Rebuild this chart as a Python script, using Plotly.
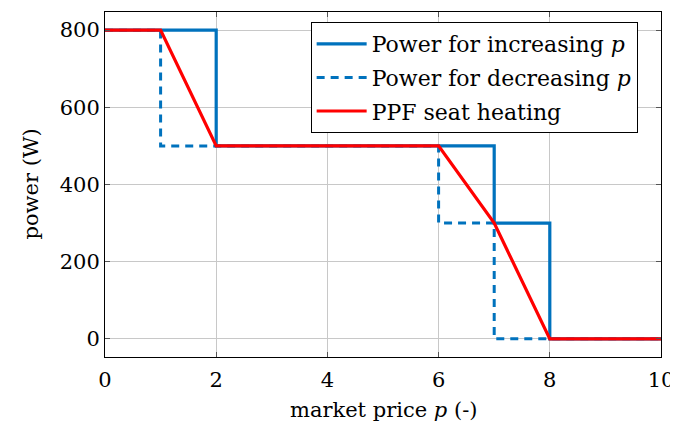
import plotly.graph_objects as go

# Data
inc_x = [0, 2, 2, 7, 7, 8, 8, 10]
inc_y = [800, 800, 500, 500, 300, 300, 0, 0]
dec_x = [0, 1, 1, 6, 6, 7, 7, 10]
dec_y = [800, 800, 500, 500, 300, 300, 0, 0]
ppf_x = [0, 1, 2, 6, 7, 8, 10]
ppf_y = [800, 800, 500, 500, 300, 0, 0]

x_ticks = [0, 2, 4, 6, 8, 10]
y_ticks = [0, 200, 400, 600, 800]

BLUE = "#0072BD"
RED = "#FF0000"
FONT = "DejaVu Serif"

fig = go.Figure()
fig.add_trace(go.Scatter(x=dec_x, y=dec_y, mode="lines", name="Power for decreasing <i>p</i>",
                         line=dict(color=BLUE, width=3, dash="8px,6px"), legendrank=2, legendgroup="b"))
fig.add_trace(go.Scatter(x=inc_x, y=inc_y, mode="lines", name="Power for increasing <i>p</i>",
                         line=dict(color=BLUE, width=3.2), legendrank=1, legendgroup="a"))
fig.add_trace(go.Scatter(x=ppf_x, y=ppf_y, mode="lines", name="PPF seat heating",
                         line=dict(color=RED, width=3.2), legendrank=3, legendgroup="c"))

axis_common = dict(
    showgrid=True, gridcolor="#c8c8c8", gridwidth=1,
    showline=True, linecolor="black", linewidth=1, mirror="ticks",
    ticks="inside", ticklen=5, tickcolor="#555555",
    zeroline=False, automargin=False,
    tickfont=dict(family=FONT, size=21, color="black"),
)

fig.update_layout(
    width=670, height=422,
    margin=dict(l=97, r=17, t=4, b=73),
    paper_bgcolor="white", plot_bgcolor="white",
    font=dict(family=FONT, color="black"),
    xaxis=dict(range=[0, 10], tickvals=x_ticks, ticklabelstandoff=4, **axis_common),
    yaxis=dict(range=[-47, 847], tickvals=y_ticks, **axis_common),
    legend=dict(
        x=0.958, y=0.971, xanchor="right", yanchor="top",
        bgcolor="white", bordercolor="black", borderwidth=1,
        font=dict(family=FONT, size=22, color="black"),
        tracegroupgap=2, itemwidth=50,
    ),
    showlegend=True,
    annotations=[
        dict(text="market price <i>p</i> (-)", xref="paper", yref="paper", x=0.5, y=0,
             yanchor="middle", xanchor="center", showarrow=False, yshift=-53,
             font=dict(family=FONT, size=21, color="black")),
        dict(text="power (W)", xref="paper", yref="paper", x=0, y=0.5, xshift=-75,
             textangle=-90, xanchor="center", yanchor="middle", showarrow=False,
             font=dict(family=FONT, size=21, color="black")),
    ],
)

fig.write_html("out.html")
